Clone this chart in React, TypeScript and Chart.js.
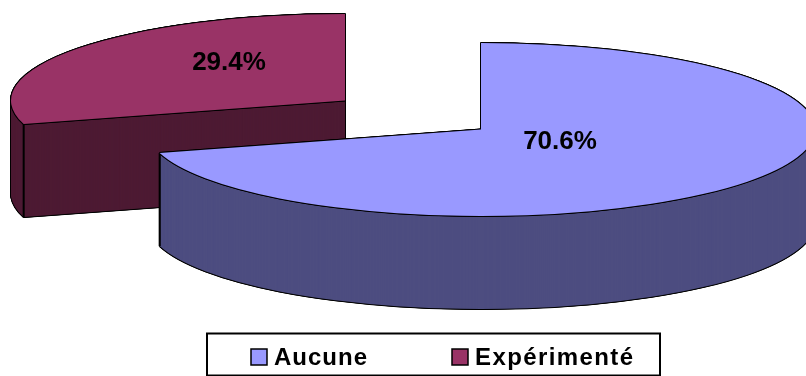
import React, { useEffect, useRef } from "react";
import { Chart, registerables } from "chart.js";

Chart.register(...registerables);

const categories = ["Aucune", "Expérimenté"];
const shares = [70.6, 29.4];
const valueLabels = ["70.6%", "29.4%"];
const topColors = ["#9999FF", "#993366"];
const wallColors = ["#4D4D80", "#4D1A33"];

// Disc proportions: horizontal radius, vertical squash and wall height, in pixels.
const RADIUS = 334;
const SQUASH = 86.5 / 334;
const DEPTH = 93;
// Displacement of each slice away from the disc centre.
const EXPLODE = [
  [0, 0],
  [-136, -29],
];
// Value label placement relative to each slice's apex.
const LABEL_OFFSET = [
  [79, 10],
  [-116, -40],
];
const OUTLINE_OFFSETS = [
  [-1, 0], [1, 0], [0, -1], [0, 1],
  [-0.7, -0.7], [0.7, -0.7], [-0.7, 0.7], [0.7, 0.7],
];
const LABEL_FONT = "bold 26px 'Liberation Sans', Arial, sans-serif";
const LEGEND_FONT = "bold 24px 'Liberation Sans', Arial, sans-serif";
const LEGEND_FRAME = { x: 207, y: 333.5, w: 453, h: 42 };
const LEGEND_ENTRIES = [
  { swatch: 251, text: 274, tracking: "1px" },
  { swatch: 452, text: 475, tracking: "1.4px" },
];

const paintArc = (ctx, arc, fill, dx, dy, sx, sy) => {
  const saved = arc.options;
  arc.options = {
    backgroundColor: fill,
    borderWidth: 0,
    borderColor: fill,
    borderAlign: "center",
    borderRadius: 0,
    offset: 0,
    spacing: 0,
    circular: true,
  };
  ctx.save();
  ctx.translate(arc.x + dx + sx, arc.y + dy + sy);
  ctx.scale(1, SQUASH);
  ctx.translate(-arc.x, -arc.y);
  arc.draw(ctx);
  ctx.restore();
  arc.options = saved;
};

const extrudedPie = {
  id: "extrudedPie",
  // Replaces the flat arcs with a tilted disc: slices go back to front.
  beforeDatasetDraw(chart) {
    const { ctx } = chart;
    const arcs = chart.getDatasetMeta(0).data;
    [1, 0].forEach((i) => {
      const arc = arcs[i];
      const [ex, ey] = EXPLODE[i];
      for (let d = DEPTH; d >= 0; d--) {
        OUTLINE_OFFSETS.forEach(([ox, oy]) => paintArc(ctx, arc, "#000", ex, ey + d, ox, oy));
      }
      for (let d = DEPTH; d >= 0; d--) {
        paintArc(ctx, arc, wallColors[i], ex, ey + d, 0, 0);
      }
      // Vertical corner where a radial wall meets the curved wall.
      [arc.startAngle, arc.endAngle].forEach((angle) => {
        if (Math.sin(angle) <= 0) return;
        const px = arc.x + ex + Math.cos(angle) * RADIUS;
        const py = arc.y + ey + Math.sin(angle) * RADIUS * SQUASH;
        ctx.save();
        ctx.strokeStyle = "#000";
        ctx.lineWidth = 2;
        ctx.beginPath();
        ctx.moveTo(px, py);
        ctx.lineTo(px, py + DEPTH);
        ctx.stroke();
        ctx.restore();
      });
      OUTLINE_OFFSETS.forEach(([ox, oy]) => paintArc(ctx, arc, "#000", ex, ey, ox, oy));
      paintArc(ctx, arc, topColors[i], ex, ey, 0, 0);
    });
    return false;
  },
  afterDraw(chart) {
    const { ctx } = chart;
    const arcs = chart.getDatasetMeta(0).data;
    ctx.save();
    ctx.fillStyle = "#000";
    ctx.textBaseline = "alphabetic";

    // Value labels
    ctx.font = LABEL_FONT;
    ctx.textAlign = "center";
    arcs.forEach((arc, i) => {
      ctx.fillText(
        valueLabels[i],
        arc.x + EXPLODE[i][0] + LABEL_OFFSET[i][0],
        arc.y + EXPLODE[i][1] + LABEL_OFFSET[i][1] + 9,
      );
    });

    // Framed legend
    ctx.strokeStyle = "#000";
    ctx.lineWidth = 2;
    ctx.strokeRect(LEGEND_FRAME.x, LEGEND_FRAME.y, LEGEND_FRAME.w, LEGEND_FRAME.h);
    ctx.font = LEGEND_FONT;
    ctx.textAlign = "left";
    categories.forEach((name, i) => {
      const { swatch, text, tracking } = LEGEND_ENTRIES[i];
      ctx.letterSpacing = tracking;
      ctx.fillStyle = topColors[i];
      ctx.fillRect(swatch, 349, 16, 16);
      ctx.lineWidth = 1.5;
      ctx.strokeRect(swatch, 349, 16, 16);
      ctx.fillStyle = "#000";
      ctx.fillText(name, text, 365);
    });
    ctx.restore();
  },
};

export default function App() {
  const canvasRef = useRef<HTMLCanvasElement>(null);

  useEffect(() => {
    const chart = new Chart(canvasRef.current, {
      type: "pie",
      data: {
        labels: categories,
        datasets: [{ data: shares, backgroundColor: topColors, borderWidth: 0 }],
      },
      options: {
        animation: false,
        responsive: false,
        radius: RADIUS,
        // Padding places the disc centre; the right edge of the disc runs off the canvas.
        layout: { padding: { left: 156, right: 0, top: 0, bottom: 117 } },
        plugins: { legend: { display: false }, tooltip: { enabled: false } },
      },
      plugins: [extrudedPie],
    });
    return () => chart.destroy();
  }, []);

  return (
    <div style={{ position: "absolute", left: 0, top: 0, background: "#fff" }}>
      <canvas ref={canvasRef} width={806} height={376} style={{ display: "block" }} />
    </div>
  );
}
